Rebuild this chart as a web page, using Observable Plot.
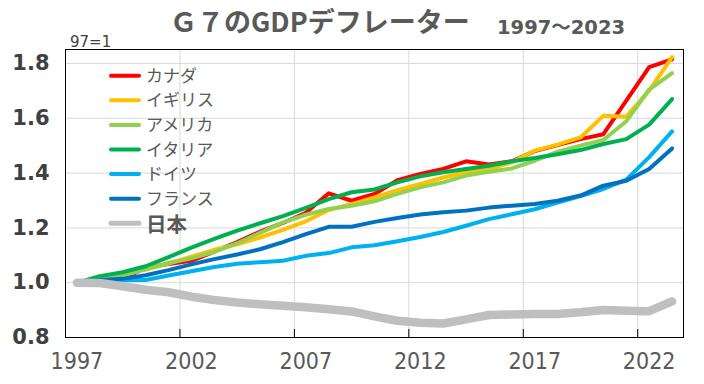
<!DOCTYPE html>
<html><head><meta charset="utf-8">
<script src="https://cdn.jsdelivr.net/npm/d3@7"></script>
<script src="https://cdn.jsdelivr.net/npm/@observablehq/plot@0.6"></script>
<style>
html,body{margin:0;padding:0;background:#fff;}
#chart{width:704px;height:384px;}
</style></head><body><div id="chart"></div>
<script>
const years = [1997,1998,1999,2000,2001,2002,2003,2004,2005,2006,2007,2008,2009,2010,2011,2012,2013,2014,2015,2016,2017,2018,2019,2020,2021,2022,2023];
const canada  = [1.000,0.996,1.014,1.055,1.068,1.080,1.113,1.148,1.186,1.218,1.255,1.326,1.299,1.324,1.374,1.397,1.415,1.443,1.431,1.443,1.480,1.502,1.524,1.542,1.664,1.787,1.815];
const uk      = [1.000,1.020,1.035,1.048,1.070,1.095,1.120,1.140,1.165,1.193,1.224,1.265,1.287,1.311,1.338,1.360,1.384,1.403,1.415,1.439,1.482,1.504,1.530,1.609,1.606,1.701,1.823];
const usa     = [1.000,1.011,1.026,1.049,1.072,1.089,1.112,1.144,1.182,1.220,1.248,1.269,1.281,1.297,1.324,1.348,1.366,1.391,1.405,1.417,1.445,1.478,1.500,1.521,1.589,1.705,1.765];
const italy   = [1.000,1.024,1.038,1.060,1.093,1.128,1.160,1.190,1.217,1.243,1.273,1.305,1.330,1.340,1.366,1.388,1.403,1.415,1.427,1.443,1.455,1.469,1.484,1.506,1.524,1.577,1.670];
const germany = [1.000,1.008,1.010,1.010,1.026,1.042,1.057,1.069,1.075,1.080,1.098,1.108,1.129,1.137,1.151,1.167,1.185,1.208,1.232,1.250,1.268,1.292,1.316,1.342,1.376,1.458,1.552];
const france  = [1.000,1.010,1.014,1.027,1.046,1.067,1.086,1.103,1.122,1.148,1.177,1.204,1.204,1.222,1.236,1.249,1.257,1.263,1.274,1.281,1.287,1.299,1.318,1.354,1.372,1.415,1.490];
const japan   = [1.000,0.999,0.987,0.974,0.965,0.949,0.937,0.928,0.921,0.916,0.910,0.903,0.895,0.877,0.861,0.854,0.851,0.866,0.882,0.884,0.886,0.886,0.892,0.900,0.898,0.896,0.932];

const seriesNames  = ["カナダ","イギリス","アメリカ","イタリア","ドイツ","フランス","日本"];
const seriesColors = ["#FF0000","#FFC000","#92D050","#00B050","#00B0F0","#0070C0","#BFBFBF"];
const seriesValues = [canada, uk, usa, italy, germany, france, japan];
const yTicks = [0.8,1.0,1.2,1.4,1.6,1.8];
const xLabelYears = [1997,2002,2007,2012,2017,2022];
const titleText = "Ｇ７のGDPデフレーター";
const subtitleText = "1997〜2023";
const unitText = "97=1";

const rows = seriesNames.flatMap((name, si) => years.map((yr, i) => ({name, si, year: yr, value: seriesValues[si][i]})));
// category boundaries (Excel-style ticks between categories)
const tickBounds = xLabelYears.slice(1).map(y => y - 0.5);

const chart = Plot.plot({
  width: 704, height: 384,
  marginLeft: 65, marginRight: 21, marginTop: 49, marginBottom: 47,
  style: {background: "#fff", overflow: "visible"},
  x: {domain: [1996.5, 2023.5]},
  y: {domain: [0.8, 1.851]},
  marks: [
    Plot.gridY(yTicks.slice(1), {stroke: "#d9d9d9", strokeOpacity: 1, strokeWidth: 1}),
    Plot.gridX(tickBounds, {stroke: "#d9d9d9", strokeOpacity: 1, strokeWidth: 1}),
    Plot.axisY(yTicks, {tickSize: 0, tickPadding: 16, tickFormat: d3.format(".1f"), fontSize: 21, fontWeight: "bold", fill: "#404040", fontFamily: "DejaVu Sans", label: null}),
    Plot.axisX(xLabelYears, {tickSize: 0, tickPadding: 15, tickFormat: d => String(d), fontSize: 23, fill: "#595959", fontFamily: "DejaVu Sans Condensed, DejaVu Sans", label: null}),
    Plot.axisX(tickBounds, {tickSize: 8, dy: -8, tickFormat: () => "", stroke: "#000", label: null}),
    ...seriesNames.map((name, si) => Plot.line(rows.filter(r => r.si === si), {
      x: "year", y: "value", stroke: seriesColors[si],
      strokeWidth: si === 6 ? 8.5 : 4, strokeLinejoin: "round", strokeLinecap: "round"
    })),
    Plot.frame({stroke: "#000", strokeWidth: 1})
  ]
});
document.getElementById("chart").appendChild(chart);

const svg = d3.select(chart);
svg.append("text").attr("x", 170).attr("y", 32).attr("text-anchor", "start").text(titleText)
  .attr("font-family", "'Noto Sans CJK JP'").attr("font-weight", "bold").attr("font-size", 27).attr("fill", "#595959");
svg.append("text").attr("x", 497).attr("y", 34).attr("text-anchor", "start").text(subtitleText)
  .attr("font-family", "'DejaVu Sans', 'Noto Sans CJK JP'").attr("font-weight", "bold").attr("font-size", 19.5).attr("fill", "#595959");
svg.append("text").attr("x", 70).attr("y", 47).attr("text-anchor", "start").text(unitText)
  .attr("font-family", "'DejaVu Sans'").attr("font-size", 15).attr("fill", "#404040");

const lg = svg.append("g").attr("text-anchor", "start");
seriesNames.forEach((name, i) => {
  const cy = 75.7 + i * 24.6;
  lg.append("line").attr("x1", 111).attr("x2", 139).attr("y1", cy).attr("y2", cy)
    .attr("stroke", seriesColors[i]).attr("stroke-width", i === 6 ? 5 : 4).attr("stroke-linecap", "round");
  lg.append("text").attr("x", 146).attr("y", cy + (i === 6 ? 1 : 0)).attr("dy", "0.36em").text(name)
    .attr("font-family", "'Noto Sans CJK JP'").attr("font-size", i === 6 ? 20.5 : 17)
    .attr("font-weight", i === 6 ? "bold" : "normal").attr("fill", "#595959");
});
</script></body></html>
